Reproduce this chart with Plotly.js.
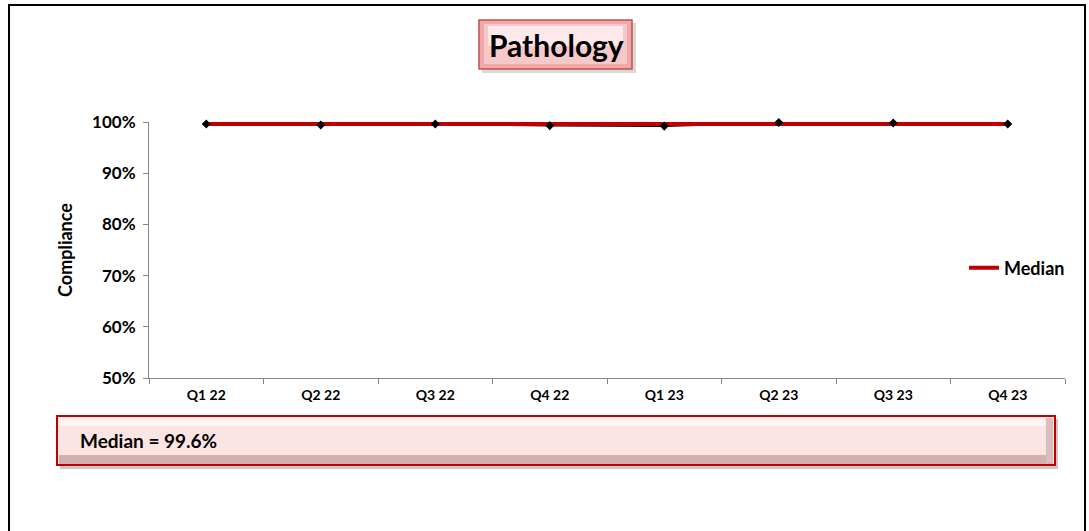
<!DOCTYPE html>
<html>
<head>
<meta charset="utf-8">
<script src="https://cdn.plot.ly/plotly-3.0.1.min.js"></script>
<style>
  html, body { margin: 0; padding: 0; background: #ffffff; }
  #chart { width: 1089px; height: 531px; }
</style>
</head>
<body>
<div id="chart"></div>
<script>
const quarters = ["Q1 22", "Q2 22", "Q3 22", "Q4 22", "Q1 23", "Q2 23", "Q3 23", "Q4 23"];
const compliance = [99.6, 99.4, 99.6, 99.3, 99.2, 99.9, 99.8, 99.6];
const medianValues = [99.6, 99.6, 99.6, 99.6, 99.6, 99.6, 99.6, 99.6];
const yTickVals = [50, 60, 70, 80, 90, 100];
const yTickText = ["50%", "60%", "70%", "80%", "90%", "100%"];
const chartTitle = "Pathology";
const medianLabel = "Median = 99.6%";

const W = 1089, H = 531;
const L = 149, R = 1065, T = 122, B = 378;
const px = v => (v - L) / (R - L);
const py = v => (B - v) / (B - T);
const FONT = "Lato, 'Open Sans', sans-serif";

function rect(x0, y0, x1, y1, fill, line, lw) {
  return { type: "rect", xref: "paper", yref: "paper", layer: "below",
    x0: px(x0), x1: px(x1), y0: py(y1), y1: py(y0),
    fillcolor: fill, line: { color: line || "rgba(0,0,0,0)", width: lw || 0 } };
}

const shapes = [
  { type: "rect", xref: "paper", yref: "paper", layer: "below",
    x0: px(9), x1: px(1085), y0: py(545), y1: py(5),
    fillcolor: "rgba(0,0,0,0)", line: { color: "#000000", width: 2 } },
  rect(482, 23, 636, 73, "#d9d9d9"),
  rect(479, 20, 632, 69, "#f0a8a8", "#c0504d", 1.5),
  rect(484, 24, 627, 64, "#f6c9c9"),
  rect(488, 26, 623, 46, "#fde9e9"),
  rect(60, 419, 1058, 469, "#c8c8c8"),
  rect(57, 416, 1055, 465, "#fbe4e4", "#c00000", 2),
  rect(59, 455, 1053, 464, "#d2b0b0"),
  rect(1046, 418, 1053, 463, "#d9bcbc"),
  rect(59, 418, 1045, 426, "#fff4f4"),
];

const annotations = [
  { xref: "paper", yref: "paper", x: px(556), y: py(45), text: "<b>" + chartTitle + "</b>",
    showarrow: false, xanchor: "center", yanchor: "middle",
    font: { family: FONT, size: 30, color: "#000000" } },
  { xref: "paper", yref: "paper", x: px(78), y: py(440), text: "<b>" + medianLabel + "</b>",
    showarrow: false, xanchor: "left", yanchor: "middle",
    font: { family: FONT, size: 19, color: "#000000" } },
];

const traces = [
  { type: "scatter", mode: "lines", x: quarters, y: compliance, name: "Compliance",
    showlegend: false, cliponaxis: false, line: { color: "#000000", width: 2 } },
  { type: "scatter", mode: "lines", x: quarters, y: medianValues, name: "Median",
    showlegend: true, cliponaxis: false, line: { color: "#c00000", width: 4 } },
  { type: "scatter", mode: "markers", x: quarters, y: compliance, name: "Compliance points",
    showlegend: false, cliponaxis: false, hoverinfo: "skip",
    marker: { symbol: "diamond", size: 7, color: "#000000" } },
];

const layout = {
  width: W, height: H,
  margin: { l: L, r: W - R, t: T, b: H - B },
  paper_bgcolor: "#ffffff", plot_bgcolor: "#ffffff",
  font: { family: FONT, color: "#000000" },
  showlegend: true,
  legend: { x: px(964), y: py(268), xanchor: "left", yanchor: "middle",
    bgcolor: "rgba(0,0,0,0)", font: { family: FONT, size: 18, color: "#000000", weight: "bold" },
    itemwidth: 30, tracegroupgap: 0 },
  xaxis: {
    type: "category", categoryorder: "array", categoryarray: quarters,
    range: [-0.5, quarters.length - 0.5],
    showline: true, linecolor: "#868686", linewidth: 1,
    showgrid: false, zeroline: false,
    ticks: "outside", ticklen: 5, tickcolor: "#868686", tickson: "boundaries",
    tickfont: { family: FONT, size: 14, color: "#000000", weight: "bold" },
    ticklabelstandoff: 4, fixedrange: true
  },
  yaxis: {
    range: [50, 100], tickvals: yTickVals, ticktext: yTickText,
    showline: true, linecolor: "#868686", linewidth: 1,
    showgrid: false, zeroline: false,
    ticks: "outside", ticklen: 5, tickcolor: "#868686",
    tickfont: { family: FONT, size: 17, color: "#000000", weight: "bold" },
    ticklabelstandoff: 4,
    title: { text: "<b>Compliance</b>", font: { family: FONT, size: 18, color: "#000000" }, standoff: 14 },
    fixedrange: true
  },
  shapes: shapes,
  annotations: annotations
};

Plotly.newPlot("chart", traces, layout, { displayModeBar: false, staticPlot: true });
</script>
</body>
</html>
